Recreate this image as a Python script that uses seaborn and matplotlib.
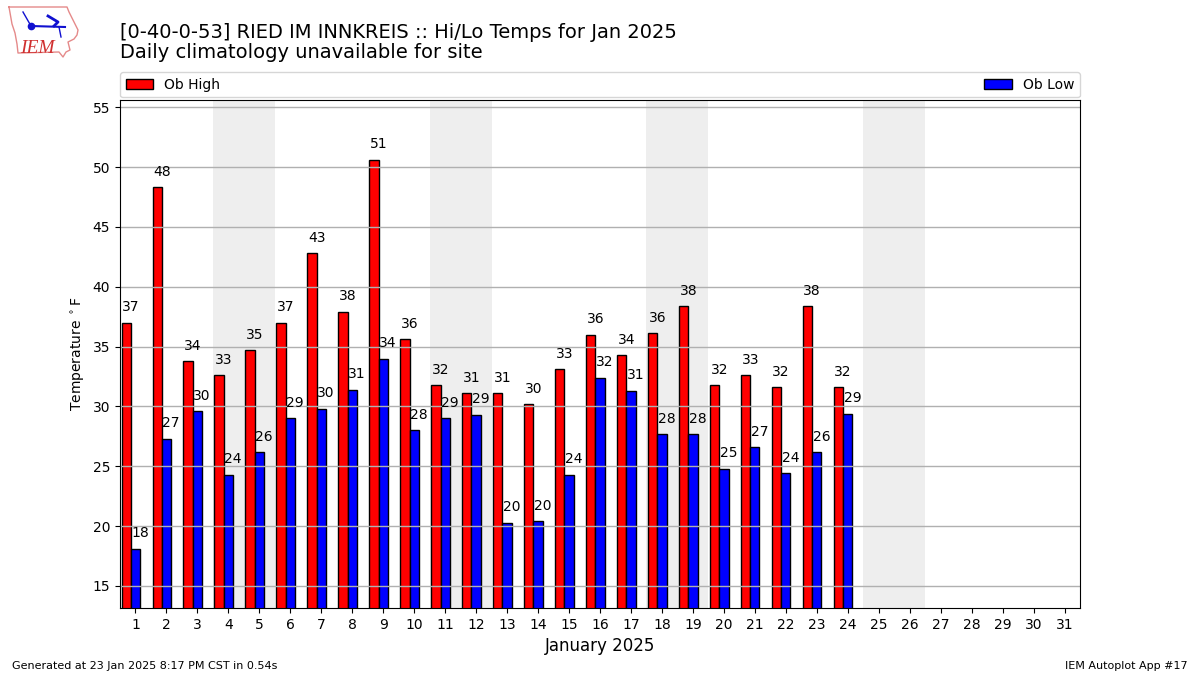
import numpy as np
import matplotlib
matplotlib.use("Agg")
import matplotlib.pyplot as plt
from matplotlib.patches import Patch
import seaborn as sns

days = np.arange(1, 25)
highs = np.array([37, 48.3, 33.8, 32.6, 34.7, 37, 42.8, 37.9, 50.6, 35.6, 31.8, 31.1,
                  31.1, 30.2, 33.1, 36, 34.3, 36.1, 38.4, 31.8, 32.6, 31.6, 38.4, 31.6])
lows = np.array([18.1, 27.3, 29.6, 24.3, 26.2, 29, 29.8, 31.4, 34, 28, 29, 29.3,
                 20.3, 20.4, 24.3, 32.4, 31.3, 27.7, 27.7, 24.8, 26.6, 24.4, 26.2, 29.4])
weekends = [(3.5, 5.5), (10.5, 12.5), (17.5, 19.5), (24.5, 26.5)]
tick_days = list(range(1, 32))
yticks = list(range(15, 60, 5))

title_1 = "[0-40-0-53] RIED IM INNKREIS :: Hi/Lo Temps for Jan 2025"
title_2 = "Daily climatology unavailable for site"
footer_l = "Generated at 23 Jan 2025 8:17 PM CST in 0.54s"
footer_r = "IEM Autoplot App #17"

fig = plt.figure(figsize=(12, 6.75), dpi=100)
ax = fig.add_axes([0.1, 1 - 608 / 675, 0.8, 508 / 675])

for a, b in weekends:
    ax.axvspan(a, b, color="#eeeeee", lw=0, zorder=0)

sns.barplot(x=days - 0.3, y=highs, native_scale=True, width=0.3, color="red",
            saturation=1, edgecolor="k", linewidth=1, ax=ax, zorder=1)
sns.barplot(x=days.astype(float), y=lows, native_scale=True, width=0.3, color="blue",
            saturation=1, edgecolor="k", linewidth=1, ax=ax, zorder=1)

for d, h, l in zip(days, highs, lows):
    ax.text(d - 0.15, h + 0.7, f"{h:.0f}", ha="center", va="bottom", fontsize=10, color="k",
            bbox=dict(facecolor="white", edgecolor="none", alpha=0, pad=0), zorder=4)
    ax.text(d + 0.15, l + 0.7, f"{l:.0f}", ha="center", va="bottom", fontsize=10, color="k", zorder=4)

ax.set_xlim(0.5, 31.5)
ax.set_ylim(13.16, 55.6)
ax.set_xticks(tick_days)
ax.set_xticklabels([str(d) for d in tick_days])
ax.set_yticks(yticks)
ax.yaxis.grid(True, color="#b0b0b0", lw=1, zorder=2)
ax.xaxis.grid(False)
ax.set_xlabel("January 2025", fontsize=12)
ax.set_ylabel(r"Temperature $^\circ$F")

handles = [Patch(facecolor="red", edgecolor="k", label="Ob High"),
           Patch(facecolor="blue", edgecolor="k", label="Ob Low")]
ax.legend(handles=handles, ncol=2, mode="expand", loc="lower left",
          bbox_to_anchor=(0, 1.005, 1, 0.05), borderaxespad=0, fontsize=10)

fig.text(0.1, 1 - 38 / 675, title_1, fontsize=14, va="baseline")
fig.text(0.1, 1 - 58 / 675, title_2, fontsize=14, va="baseline")
fig.text(0.01, 1 - 666 / 675, footer_l, fontsize=8, va="center")
fig.text(0.99, 1 - 666 / 675, footer_r, fontsize=8, va="center", ha="right")

# small IEM logo, drawn in pixel space
logo = fig.add_axes([0, 0, 1, 1], facecolor="none", zorder=5)
logo.set_xlim(0, 1200)
logo.set_ylim(675, 0)
logo.axis("off")
logo.plot([9, 67, 69, 72, 78, 77, 74, 68, 70, 66, 63, 59, 18, 17, 15, 12, 9],
          [7, 7, 12, 18, 30, 35, 39, 42, 50, 52, 57, 52, 53, 44, 33, 24, 7],
          color="#e58a8a", lw=1)
logo.plot([31, 65], [26, 27], color="#1010d0", lw=1.5)
logo.plot([31, 23], [26, 12], color="#1010d0", lw=1)
logo.plot([48, 58, 54], [16, 22, 26], color="#1010d0", lw=2)
logo.plot([59, 61], [27, 37], color="#1010d0", lw=1)
logo.plot([31], [26], "o", color="#1010d0", ms=4.5)
logo.text(20, 53, "IEM", color="#d03030", fontsize=14, style="italic",
          family="Liberation Serif", va="baseline")

fig.savefig("out.png", dpi=100)
